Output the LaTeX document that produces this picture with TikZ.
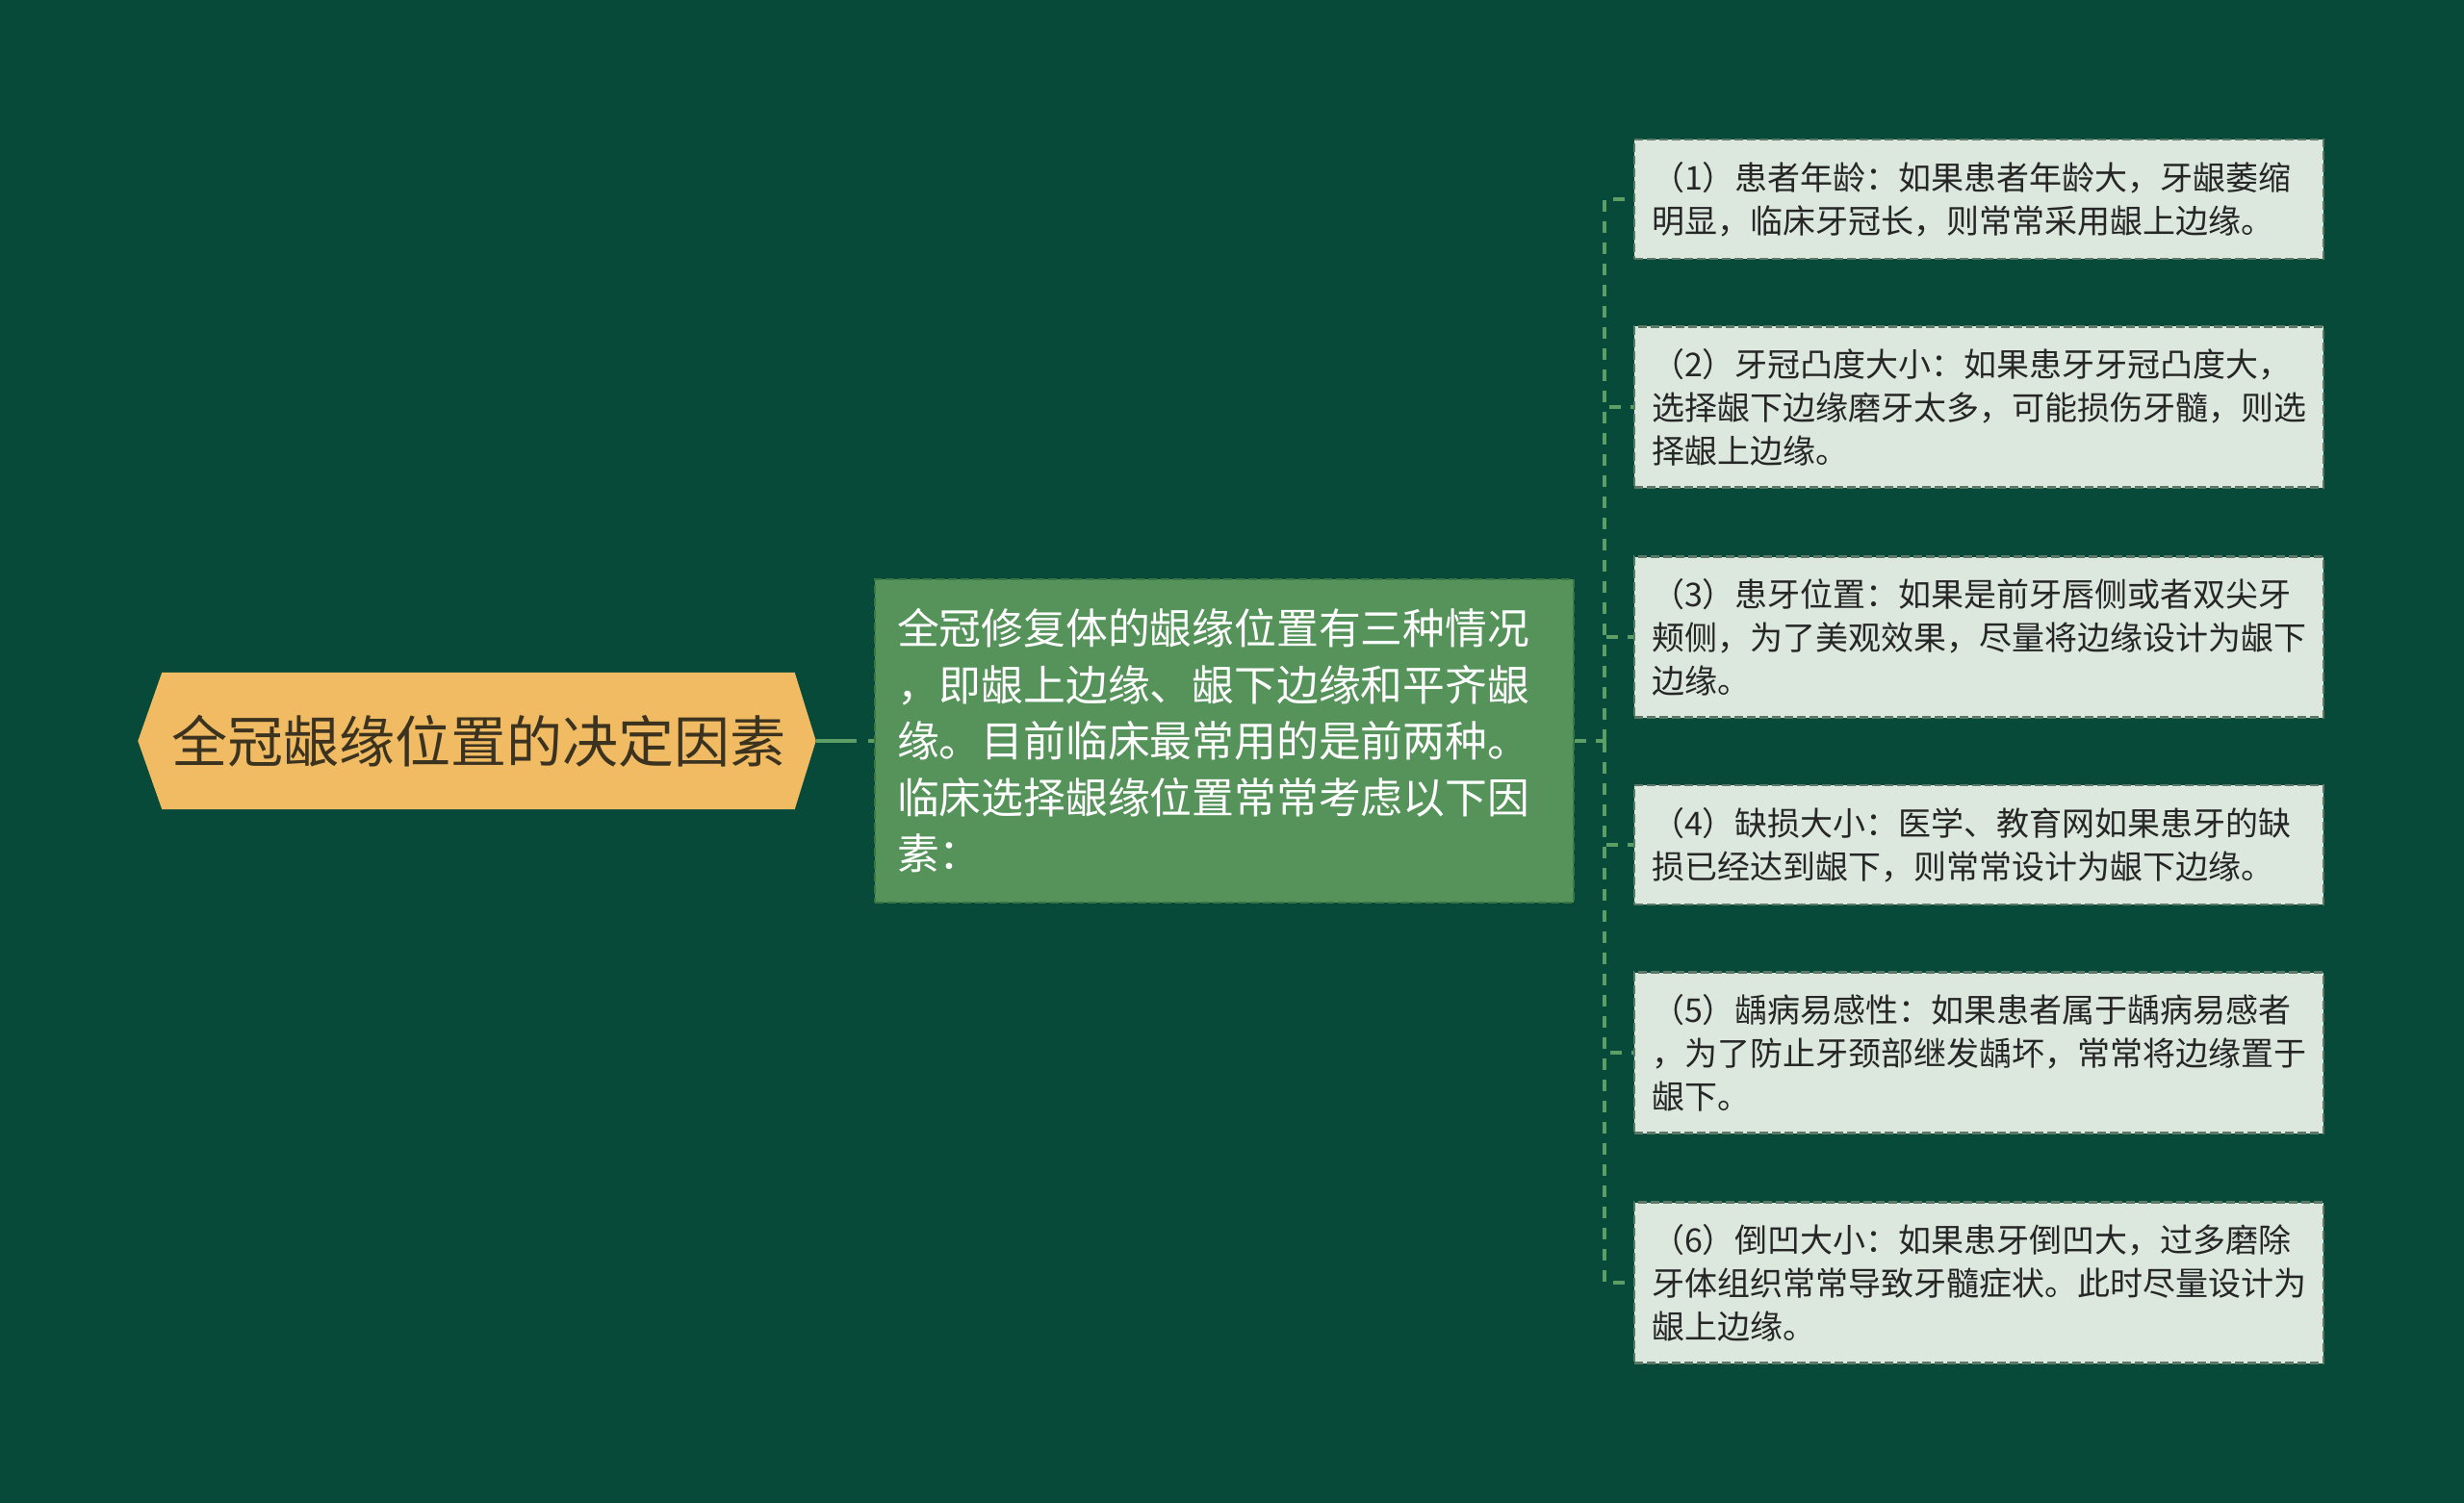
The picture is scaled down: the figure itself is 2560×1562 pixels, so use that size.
\documentclass[tikz,border=0pt]{standalone}
\usepackage{fontspec}
\setmainfont{Noto Sans CJK SC}
\usetikzlibrary{backgrounds}
\definecolor{bgcol}{HTML}{084A3A}
\definecolor{rootfill}{HTML}{F0BB62}
\definecolor{roottext}{HTML}{3B3320}
\definecolor{hubfill}{HTML}{55935A}
\definecolor{hubline}{HTML}{3C7645}
\definecolor{leaffill}{HTML}{DCE8DE}
\definecolor{leafline}{HTML}{5E7868}
\definecolor{linkcol}{HTML}{5C9E65}
\tikzstyle{root} = [inner sep=0pt, minimum width=657pt, minimum height=142pt, text=roottext, font=\fontsize{58}{70}\selectfont]
\tikzstyle{hub} = [rectangle, draw=hubline, line width=2.5pt, dash pattern=on 9pt off 4pt, fill=hubfill, text=white, text width=680pt, align=left, inner xsep=23pt, inner ysep=0pt, minimum height=336pt, font=\fontsize{43.8}{58.5}\selectfont]
\tikzstyle{leaf} = [rectangle, draw=leafline, line width=2.5pt, dash pattern=on 9pt off 4pt, fill=leaffill, text=black!85, text width=680pt, align=left, inner xsep=18pt, inner ysep=0pt, font=\fontsize{34}{45}\selectfont]
\tikzstyle{link} = [draw=linkcol, line width=4pt]

\begin{document}
\begin{tikzpicture}[x=1pt, y=-1pt]

% root and its hexagon
\node [root] (R) at (497,770) {全冠龈缘位置的决定因素};
\begin{scope}[on background layer]
\fill [bgcol] (0,0) rectangle (2560,1562);
\fill [rootfill] (R.north west) -- (R.north east) -- ([xshift=22pt]R.east) -- (R.south east)
  -- (R.south west) -- ([xshift=-25pt]R.west) -- cycle;
\end{scope}

% middle node
\node [hub] (H) at (1272,770) {全冠修复体的龈缘位置有三种情况\\，即龈上边缘、龈下边缘和平齐龈\\缘。目前临床最常用的是前两种。\\临床选择龈缘位置常常考虑以下因\\素：};

% factors
\node [leaf, minimum height=124pt] (F1) at (2056,207) {（1）患者年龄：如果患者年龄大，牙龈萎缩\\明显，临床牙冠长，则常常采用龈上边缘。};
\node [leaf, minimum height=167pt] (F2) at (2056,423) {（2）牙冠凸度大小：如果患牙牙冠凸度大，\\选择龈下边缘磨牙太多，可能损伤牙髓，则选\\择龈上边缘。};
\node [leaf, minimum height=167pt] (F3) at (2056,662) {（3）患牙位置：如果是前牙唇侧或者双尖牙\\颊侧，为了美观效果，尽量将边缘设计为龈下\\边缘。};
\node [leaf, minimum height=124pt] (F4) at (2056,878) {（4）缺损大小：医学、教育网如果患牙的缺\\损已经达到龈下，则常常设计为龈下边缘。};
\node [leaf, minimum height=167pt] (F5) at (2056,1094) {（5）龋病易感性：如果患者属于龋病易感者\\，为了防止牙颈部继发龋坏，常常将边缘置于\\龈下。};
\node [leaf, minimum height=167pt] (F6) at (2056,1333) {（6）倒凹大小：如果患牙倒凹大，过多磨除\\牙体组织常常导致牙髓症状。此时尽量设计为\\龈上边缘。};

\coordinate (T) at (1667,770);

\path [link, dash pattern=on 42pt off 12pt] ([xshift=22pt]R.east) -- (H.west);
\path [link, dash pattern=on 12pt off 10pt] (H.east) -- (T);
\path [link, dash pattern=on 12pt off 10pt] (T) |- (F1.west);
\path [link, dash pattern=on 12pt off 10pt] (T) |- (F2.west);
\path [link, dash pattern=on 12pt off 10pt] (T) |- (F3.west);
\path [link, dash pattern=on 12pt off 10pt] (T) |- (F4.west);
\path [link, dash pattern=on 12pt off 10pt] (T) |- (F5.west);
\path [link, dash pattern=on 12pt off 10pt] (T) |- (F6.west);

\end{tikzpicture}
\end{document}
